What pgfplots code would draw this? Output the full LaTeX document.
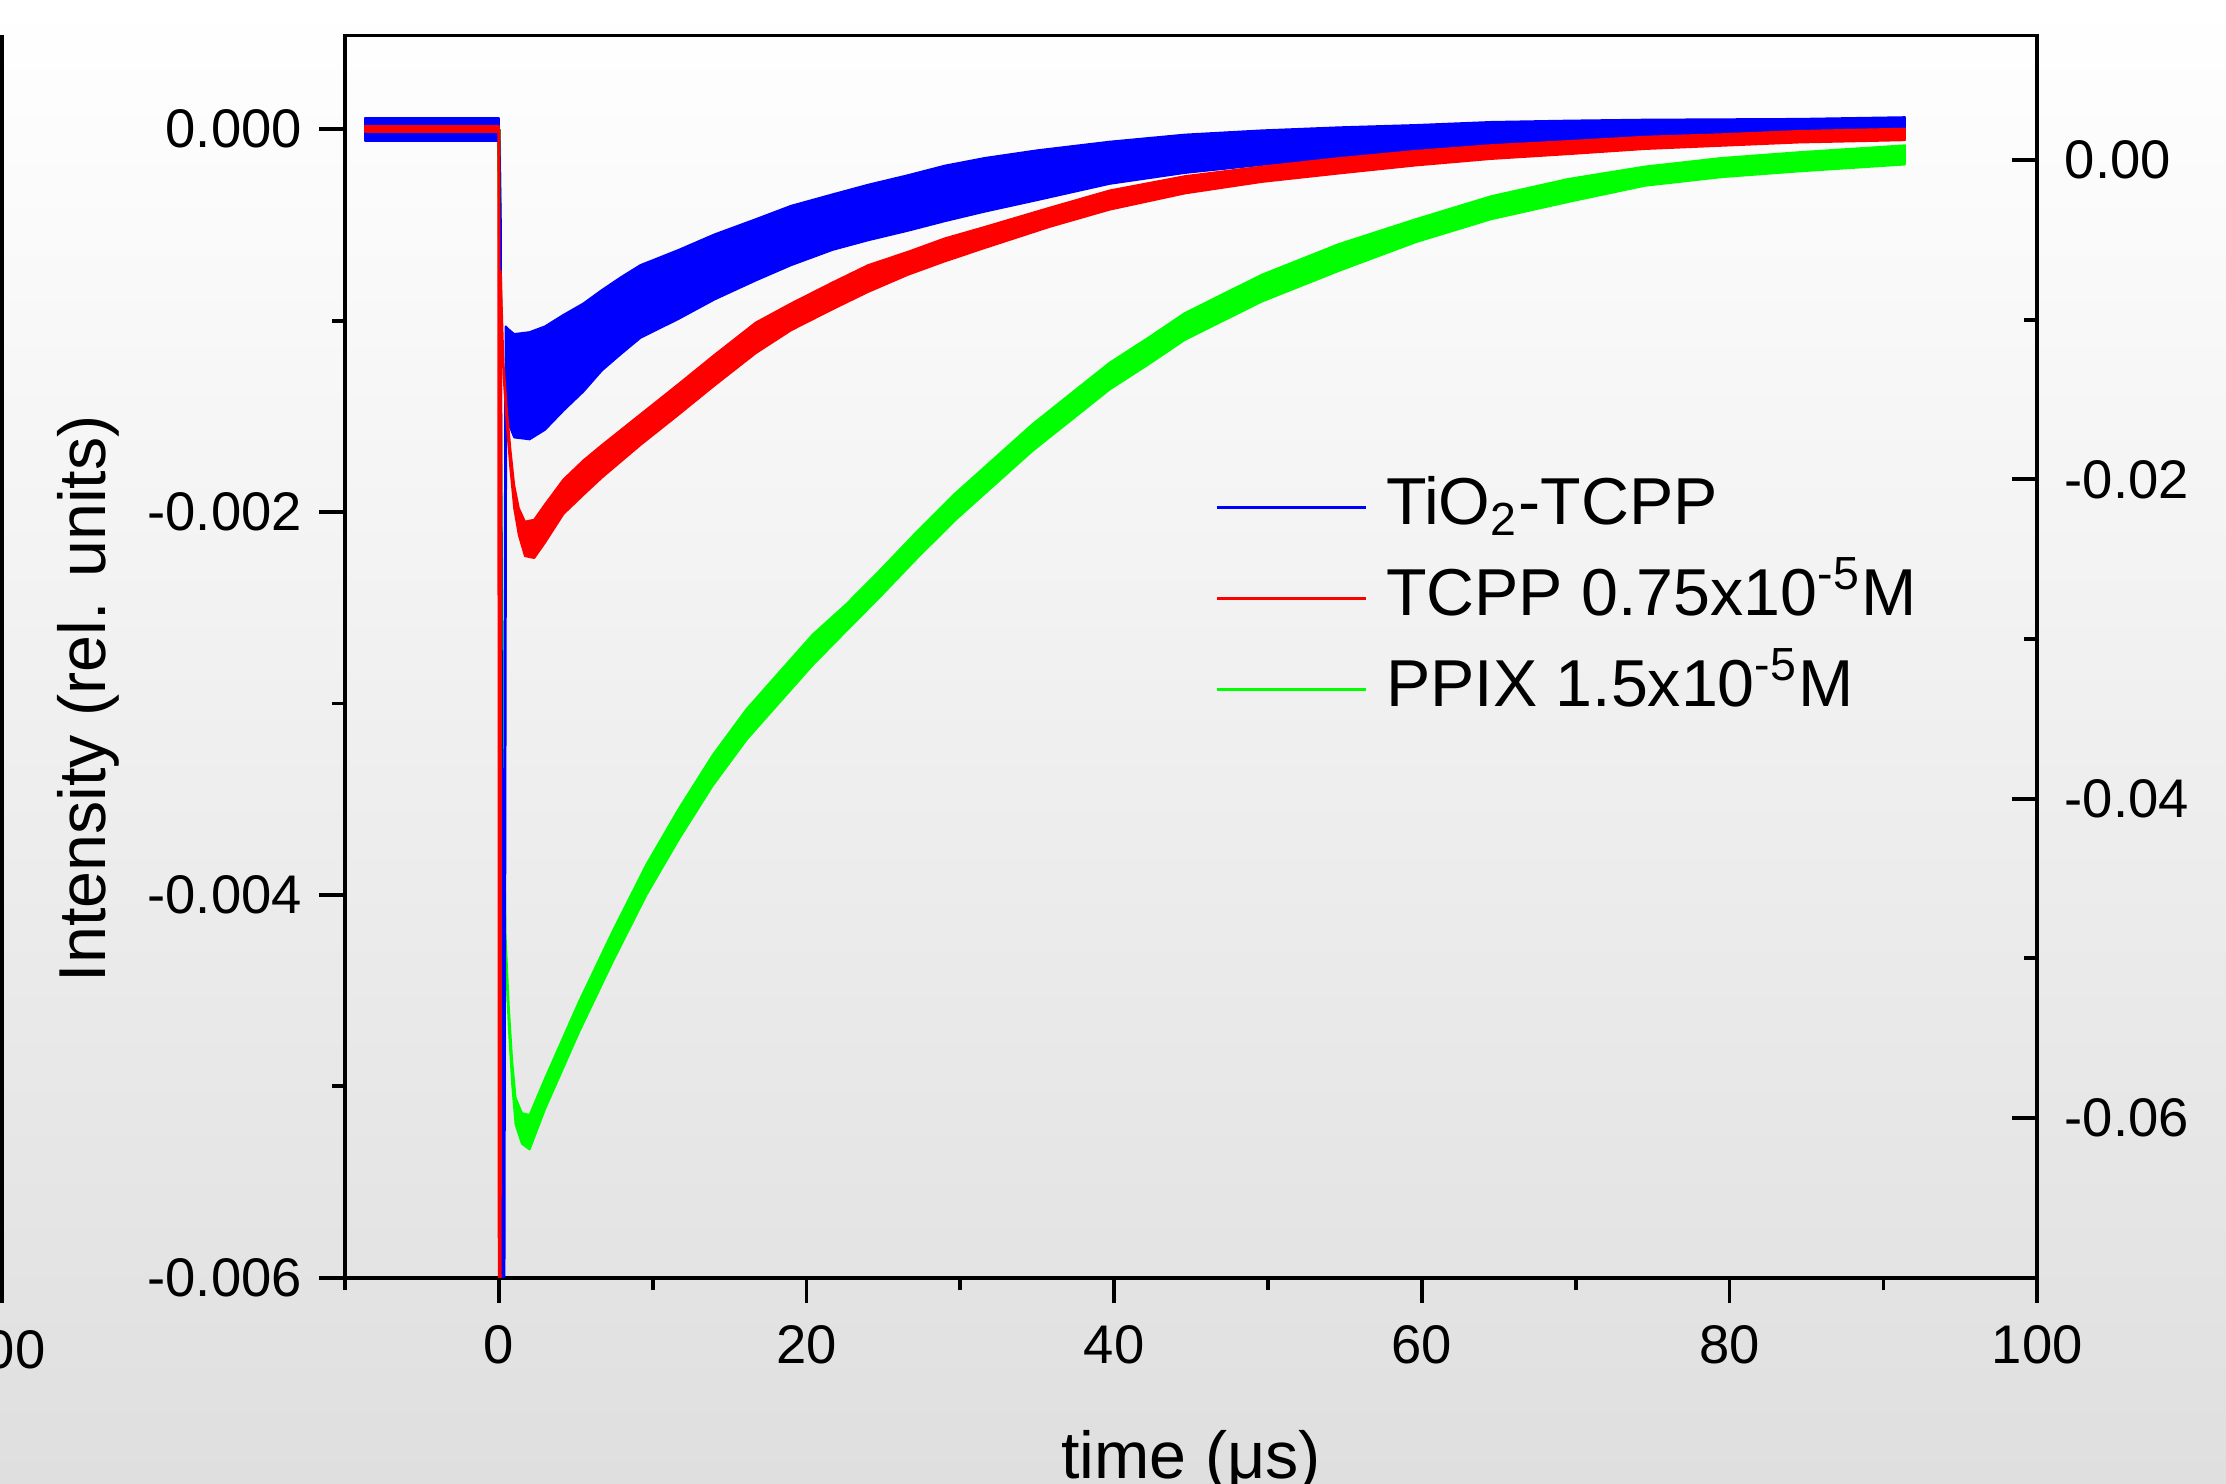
\documentclass[border=0pt]{standalone}
\usepackage{fontspec}
\setmainfont{Liberation Sans}
\usepackage{pgfplots}
\usepackage{pgfplotstable}
\pgfplotsset{compat=1.18}

\definecolor{bgbot}{RGB}{223,223,223}
\definecolor{tblue}{RGB}{0,0,255}
\definecolor{tred}{RGB}{255,0,0}
\definecolor{tgreen}{RGB}{0,255,0}

% noise bands, as closed outlines:
% lower edge left to right, then upper edge right to left
\pgfplotstableread{
x y
-8.7 -0.00006
0.0 -0.00006
0.0 0.00006
-8.7 0.00006
}\bluepre
\pgfplotstableread{
x y
0.45 -0.00147
0.7 -0.00155
1.0 -0.00161
2.0 -0.00162
3.0 -0.00157
4.2 -0.00147
5.5 -0.00137
6.7 -0.00126
8.0 -0.00117
9.2 -0.00109
11.7 -0.00099
14.0 -0.00089
16.7 -0.00079
19.0 -0.00071
21.7 -0.00063
24.0 -0.00058
26.6 -0.00053
29.0 -0.00048
31.6 -0.00043
35.0 -0.00037
39.7 -0.000285
44.6 -0.000228
49.6 -0.000186
54.6 -0.000147
59.6 -0.000118
64.5 -0.000097
69.5 -0.000080
74.5 -0.000067
84.5 -0.000046
91.4 -0.000037
91.4 0.000063
84.5 0.000054
74.5 0.000050
69.5 0.000045
64.5 0.000038
59.6 0.000022
54.6 0.000010
49.6 -0.000006
44.6 -0.000028
39.7 -0.000065
35.0 -0.00011
31.6 -0.00015
29.0 -0.00019
26.6 -0.00024
24.0 -0.00029
21.7 -0.00034
19.0 -0.00040
16.7 -0.00047
14.0 -0.00055
11.7 -0.00063
9.2 -0.00071
8.0 -0.00077
6.7 -0.00084
5.5 -0.00091
4.2 -0.00097
3.0 -0.00103
2.0 -0.00106
1.0 -0.00107
0.7 -0.00105
0.45 -0.00103
}\bluepost
\pgfplotstableread{
x y
-8.7 -0.000015
0.0 -0.000015
0.0 0.000015
-8.7 0.000015
}\redpre
\pgfplotstableread{
x y
0.12 -0.00080
0.3 -0.00128
0.5 -0.00152
0.75 -0.00177
1.0 -0.00198
1.3 -0.00212
1.7 -0.00223
2.3 -0.00224
3.0 -0.00216
4.2 -0.00201
5.5 -0.00191
6.7 -0.00182
9.2 -0.00165
11.7 -0.00149
14.0 -0.00134
16.7 -0.00117
19.0 -0.00105
21.7 -0.00094
24.0 -0.00085
26.6 -0.00076
29.0 -0.00069
31.6 -0.00062
35.8 -0.00051
39.7 -0.00042
44.6 -0.000335
49.6 -0.000275
54.6 -0.000231
59.6 -0.000189
64.5 -0.000155
69.5 -0.000130
74.5 -0.000103
79.5 -0.000086
84.5 -0.000069
91.4 -0.000057
91.4 0.000003
84.5 -0.000009
79.5 -0.000026
74.5 -0.000039
69.5 -0.000062
64.5 -0.000083
59.6 -0.000113
54.6 -0.000151
49.6 -0.000195
44.6 -0.000245
39.7 -0.00032
35.8 -0.00041
31.6 -0.00051
29.0 -0.00057
26.6 -0.00064
24.0 -0.00071
21.7 -0.00080
19.0 -0.00091
16.7 -0.00101
14.0 -0.00118
11.7 -0.00133
9.2 -0.00149
6.7 -0.00165
5.5 -0.00173
4.2 -0.00183
3.0 -0.00196
2.3 -0.00204
1.7 -0.00205
1.3 -0.00198
1.0 -0.00186
0.75 -0.00167
0.5 -0.00144
0.3 -0.00122
0.12 -0.00074
}\redpost
\pgfplotstableread{
x y
-8.7 -0.00001
0.0 -0.00001
0.0 0.00003
-8.7 0.00003
}\greenpre
\pgfplotstableread{
x y
0.1 -0.00123
0.22 -0.00243
0.33 -0.00354
0.43 -0.00428
0.65 -0.00469
0.87 -0.00499
1.09 -0.00520
1.5 -0.00530
2.0 -0.00533
3.0 -0.00512
5.2 -0.00472
7.4 -0.00435
9.6 -0.00400
11.7 -0.00371
13.9 -0.00343
16.1 -0.00319
18.3 -0.00299
20.4 -0.00280
22.6 -0.00262
24.7 -0.00245
27.2 -0.00224
29.7 -0.00204
32.2 -0.00186
34.7 -0.00168
37.2 -0.00152
39.7 -0.00136
42.2 -0.00123
44.6 -0.00110
49.6 -0.00090
54.6 -0.00074
59.6 -0.00059
64.5 -0.00047
69.5 -0.00038
74.5 -0.000295
79.5 -0.00025
84.5 -0.00022
91.4 -0.000184
91.4 -0.000084
84.5 -0.00012
79.5 -0.00015
74.5 -0.000195
69.5 -0.00026
64.5 -0.00035
59.6 -0.00047
54.6 -0.00060
49.6 -0.00076
44.6 -0.00096
42.2 -0.00109
39.7 -0.00122
37.2 -0.00138
34.7 -0.00154
32.2 -0.00172
29.7 -0.00190
27.2 -0.00210
24.7 -0.00231
22.6 -0.00248
20.4 -0.00264
18.3 -0.00283
16.1 -0.00303
13.9 -0.00327
11.7 -0.00355
9.6 -0.00384
7.4 -0.00419
5.2 -0.00456
3.0 -0.00496
2.0 -0.00515
1.5 -0.00514
1.09 -0.00506
0.87 -0.00487
0.65 -0.00459
0.43 -0.00420
0.33 -0.00346
0.22 -0.00237
0.1 -0.00117
}\greenpost

\pgfplotsset{
  band/.style={draw=#1, fill=#1, line width=0.4pt, line join=round, forget plot},
}

\begin{document}
\begin{tikzpicture}
\shade[top color=white, bottom color=bgbot] (-24.3mm,-14.5mm) rectangle (132.5mm,90mm);

\begin{axis}[
    at={(0,0)}, anchor=south west,
    scale only axis,
    width=119.2mm, height=87.5mm,
    xmin=-10, xmax=100,
    ymin=-0.006, ymax=0.00049,
    xtick={0,20,40,60,80,100},
    minor xtick={-10,10,30,50,70,90},
    ytick={-0.006,-0.004,-0.002,0},
    yticklabels={-0.006,-0.004,-0.002,0.000},
    minor ytick={-0.005,-0.003,-0.001},
    xtick pos=bottom, ytick pos=left,
    tick align=outside,
    major tick length=1.8mm, minor tick length=0.9mm,
    axis line style={line width=0.75pt},
    every tick/.style={black, line width=0.75pt},
    /pgf/number format/assume math mode=true,
    tick label style={font=\fontsize{10.9}{13}\selectfont},
    xticklabel style={yshift=-0.3mm},
    label style={font=\fontsize{13.3}{16}\selectfont},
    xlabel={time (μs)},
    ylabel={Intensity (rel. units)},
    xlabel style={at={(rel axis cs:0.5,-0.1475)}, anchor=center},
    ylabel style={at={(rel axis cs:-0.1518,0.466)}, anchor=center},
    legend style={draw=none, fill=none, at={(0.505,0.547)}, anchor=west,
        font=\fontsize{13.3}{16}\selectfont, row sep=2mm, column sep=1.3mm,
        nodes={inner sep=0pt, text height=3.4mm, text depth=1mm}},
    legend cell align=left,
    legend image code/.code={\draw[#1] (0mm,0mm) -- (10.5mm,0mm);},
]
% PPIX 1.5x10^-5 M
\addplot[band=tgreen] table {\greenpre} -- cycle;
\addplot[tgreen, line width=0.8pt, forget plot] coordinates {(0,0) (0.05,-0.0004) (0.1,-0.0012)};
\addplot[band=tgreen] table {\greenpost} -- cycle;

% TiO2-TCPP
\addplot[band=tblue] table {\bluepre} -- cycle;
\addplot[tblue, line width=0.6pt, forget plot] coordinates {(0,0) (0.1,-0.0005) (0.25,-0.0062) (0.33,-0.0062) (0.45,-0.00125)};
\addplot[band=tblue] table {\bluepost} -- cycle;

% TCPP 0.75x10^-5 M
\addplot[band=tred] table {\redpre} -- cycle;
\addplot[tred, line width=0.6pt, forget plot] coordinates {(0,0) (0.03,-0.0062) (0.09,-0.0062) (0.12,-0.00077)};
\addplot[band=tred] table {\redpost} -- cycle;

\addlegendimage{tblue, line width=0.6pt}
\addlegendentry{TiO\textsubscript{2}-TCPP}
\addlegendimage{tred, line width=0.6pt}
\addlegendentry{TCPP 0.75x10\textsuperscript{-5}M}
\addlegendimage{tgreen, line width=0.6pt}
\addlegendentry{PPIX 1.5x10\textsuperscript{-5}M}
\end{axis}

\begin{axis}[
    at={(0,0)}, anchor=south west,
    scale only axis,
    width=119.2mm, height=87.5mm,
    xmin=-10, xmax=100,
    ymin=-0.07, ymax=0.0078,
    axis x line=none, axis y line*=right,
    ytick={-0.06,-0.04,-0.02,0},
    yticklabels={-0.06,-0.04,-0.02,0.00},
    minor ytick={-0.05,-0.03,-0.01},
    tick align=inside,
    major tick length=1.8mm, minor tick length=0.9mm,
    axis line style={line width=0.75pt, -},
    every tick/.style={black, line width=0.75pt},
    tick label style={font=\fontsize{10.9}{13}\selectfont},
    yticklabel style={xshift=0.7mm},
]
\addplot[draw=none] coordinates {(0,0)};
\end{axis}

% right edge of the neighbouring panel
\draw[line width=0.75pt] (-24.17mm,-1.8mm) -- (-24.17mm,87.5mm);
\node[font=\fontsize{10.9}{13}\selectfont] at (-24.3mm,-5.1mm) {100};

\pgfresetboundingbox
\path[use as bounding box] (-24.3mm,-14.5mm) rectangle (132.5mm,90mm);
\end{tikzpicture}
\end{document}
